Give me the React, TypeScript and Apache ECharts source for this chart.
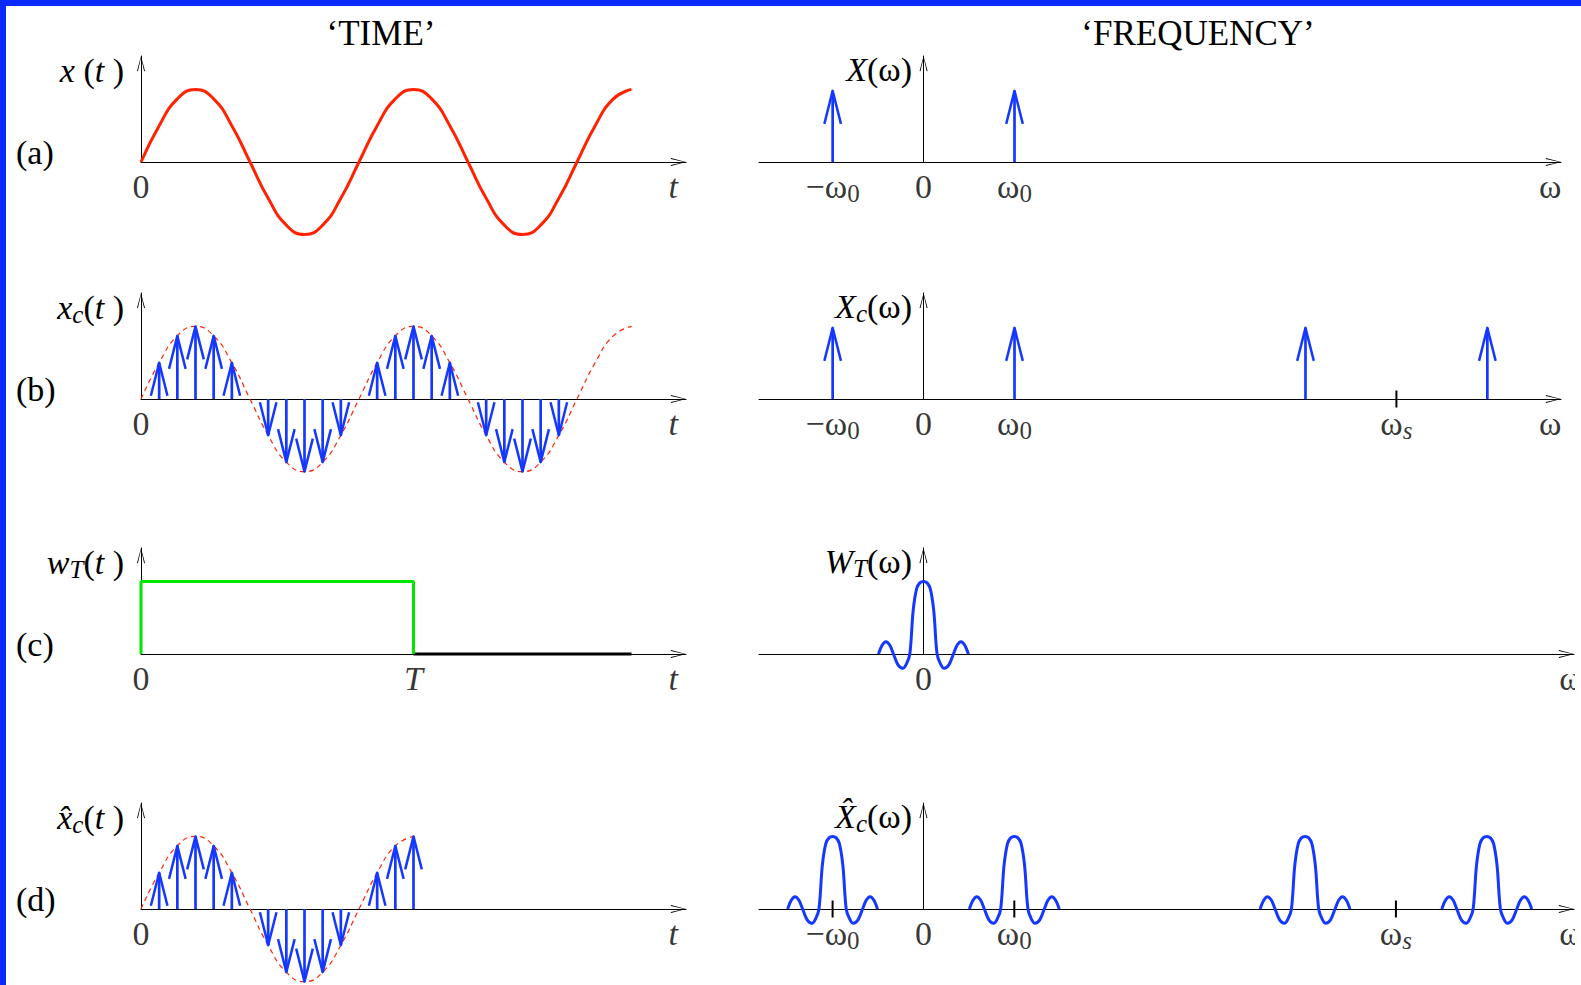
import React, { useEffect, useRef } from 'react';
import * as echarts from 'echarts';

const FONT = '"Liberation Serif", "Times New Roman", Times, serif';

// ---------------- data ----------------
// time axis: units of the sampling interval (12 samples per period of the sinusoid)
const timeIndex = [0, 1, 2, 3, 4, 5, 6, 7, 8, 9, 10, 11, 12, 13, 14, 15, 16, 17, 18, 19, 20, 21, 22, 23, 24, 25, 26, 27];
const sineValues = [0, 0.5, 0.87, 1, 0.87, 0.5, 0, -0.5, -0.87, -1, -0.87, -0.5, 0, 0.5, 0.87, 1, 0.87, 0.5, 0, -0.5, -0.87, -1, -0.87, -0.5, 0, 0.5, 0.87, 1];
const timeAxisMin = 0;
const timeAxisMax = 30;
const sampledUntilB = 24;
const windowLength = 15; // T
const windowLevel = 1;
const timeEnd = 27;

// frequency axis: units of ω0
const freqAxisMin = -1.81;
const freqAxisMaxAB = 7.01;
const freqAxisMaxCD = 7.16;
const impulsesA = [-1, 1];
const impulsesB = [-1, 1, 4.2, 6.2];
const impulseHeight = 0.98;
const sincOffsets = [-0.495, -0.455, -0.413, -0.37, -0.33, -0.28, -0.227, -0.185, -0.15, -0.113, -0.075, -0.04, 0, 0.04, 0.075, 0.113, 0.15, 0.185, 0.227, 0.28, 0.33, 0.37, 0.413, 0.455, 0.495];
const sincValues = [0, 0.12, 0.17, 0.12, 0, -0.15, -0.197, -0.13, 0, 0.6, 0.9, 0.98, 1, 0.98, 0.9, 0.6, 0, -0.13, -0.197, -0.15, 0, 0.12, 0.17, 0.12, 0];
const sincCenterC = [0];
const replicaCentersD = [-1, 1, 4.2, 6.2];
const ticksB = [5.2];
const ticksD = [-1, 1, 5.2];

// tick labels (position on axis, text)
const timeLabels = [{ at: 0, text: '{n|0}' }, { at: 29.3, text: '{i|t}' }];
const timeLabelsC = [{ at: 0, text: '{n|0}' }, { at: 15, text: '{i|T}' }, { at: 29.3, text: '{i|t}' }];
const freqLabelsA = [{ at: -1, text: '{n|−ω}{s|0}' }, { at: 0, text: '{n|0}' }, { at: 1, text: '{n|ω}{s|0}' }, { at: 6.89, text: '{n|ω}' }];
const freqLabelsB = [{ at: -1, text: '{n|−ω}{s|0}' }, { at: 0, text: '{n|0}' }, { at: 1, text: '{n|ω}{s|0}' }, { at: 5.2, text: '{n|ω}{si|s}' }, { at: 6.89, text: '{n|ω}' }];
const freqLabelsC = [{ at: 0, text: '{n|0}' }, { at: 7.12, text: '{n|ω}' }];
const freqLabelsD = [{ at: -1, text: '{n|−ω}{s|0}' }, { at: 0, text: '{n|0}' }, { at: 1, text: '{n|ω}{s|0}' }, { at: 5.2, text: '{n|ω}{si|s}' }, { at: 7.12, text: '{n|ω}' }];

const yNamesTime = ['{i|x} ({i|t} )', '{i|x}{si|c}({i|t} )', '{i|w}{si|T}({i|t} )', '{i|x\u0302}{si|c}({i|t} )'];
const yNamesFreq = ['{i|X}(ω)', '{i|X}{si|c}(ω)', '{i|W}{si|T}(ω)', '{i|X\u0302}{si|c}(ω)'];
const panelLetters = ['(a)', '(b)', '(c)', '(d)'];
const titles = ['‘TIME’', '‘FREQUENCY’'];

// ---------------- layout / style ----------------
const W = 1581;
const H = 985;
const BASELINES = [162, 399, 654, 909];
const AX_H = 106;
const UNIT_PX = 72.6;
const Y_MAX = AX_H / UNIT_PX;
const TIME_LEFT = 141;
const TIME_RIGHT = 686;
const FREQ_LEFT = 759;
const FREQ_RIGHT_AB = 1561;
const FREQ_RIGHT_CD = 1574;
const BLUE = '#1438ff';
const RED = '#ff2200';
const GREEN = '#00e600';
const BORDER = '#0a2aff';
const ARROW = 'path://M4,0L8,15L7.1,15.2L4,1.8L0.9,15.2L0,15Z';
const SUB_PAD = [14, 0, 0, 0];

const labelRich = {
  n: { fontFamily: FONT, fontSize: 34, lineHeight: 36, color: '#000' },
  i: { fontFamily: FONT, fontSize: 34, lineHeight: 36, fontStyle: 'italic', color: '#000' },
  s: { fontFamily: FONT, fontSize: 25, padding: SUB_PAD, verticalAlign: 'middle', color: '#000' },
  si: { fontFamily: FONT, fontSize: 25, padding: SUB_PAD, verticalAlign: 'middle', fontStyle: 'italic', color: '#000' },
};
const gRich = {
  n: { font: `34px ${FONT}`, fill: '#000', lineHeight: 36 },
  i: { font: `italic 34px ${FONT}`, fill: '#000', lineHeight: 36 },
  s: { font: `25px ${FONT}`, fill: '#000', padding: SUB_PAD, verticalAlign: 'middle' },
  si: { font: `italic 25px ${FONT}`, fill: '#000', padding: SUB_PAD, verticalAlign: 'middle' },
};

function axis(gridIndex: number, min: number, max: number) {
  return {
    type: 'value',
    gridIndex,
    min,
    max,
    axisLine: {
      show: true,
      onZero: true,
      symbol: ['none', ARROW],
      symbolSize: [8, 15.2],
      symbolOffset: [0, -7.6],
      lineStyle: { color: '#000', width: 1 },
    },
    axisTick: { show: false },
    axisLabel: { show: false },
    splitLine: { show: false },
  };
}

function lineSeries(g: number, data: number[][], color: string, width: number, extra: any = {}) {
  return {
    type: 'line',
    xAxisIndex: g,
    yAxisIndex: g,
    data,
    symbol: 'none',
    showSymbol: false,
    clip: false,
    silent: true,
    lineStyle: { color, width, ...(extra.lineStyle || {}) },
    smooth: extra.smooth || false,
    z: extra.z || 3,
  };
}

function renderArrow(params: any, api: any) {
  const x = api.value(0);
  const v = api.value(1);
  const b = api.coord([x, 0]);
  const t = api.coord([x, v]);
  const d = v >= 0 ? 1 : -1;
  return {
    type: 'group',
    children: [
      { type: 'line', shape: { x1: b[0], y1: b[1], x2: t[0], y2: t[1] }, style: { stroke: BLUE, lineWidth: 2.7 } },
      {
        type: 'polyline',
        shape: { points: [[t[0] - 8.3, t[1] + d * 33], [t[0], t[1]], [t[0] + 8.3, t[1] + d * 33]] },
        style: { stroke: BLUE, lineWidth: 2.5, fill: 'none', lineJoin: 'round' },
      },
    ],
  };
}

function renderTick(params: any, api: any) {
  const p = api.coord([api.value(0), 0]);
  return { type: 'line', shape: { x1: p[0], y1: p[1] - 8.5, x2: p[0], y2: p[1] + 8.5 }, style: { stroke: '#000', lineWidth: 2 } };
}

function arrowSeries(g: number, data: number[][]) {
  return { type: 'custom', xAxisIndex: g, yAxisIndex: g, data, renderItem: renderArrow, clip: false, silent: true, z: 4 };
}
function tickSeries(g: number, xs: number[]) {
  return { type: 'custom', xAxisIndex: g, yAxisIndex: g, data: xs.map((x) => [x]), renderItem: renderTick, clip: false, silent: true, z: 4 };
}
function labelSeries(g: number, labels: { at: number; text: string }[]) {
  return {
    type: 'scatter',
    xAxisIndex: g,
    yAxisIndex: g,
    symbol: 'circle',
    symbolSize: 1,
    itemStyle: { color: 'rgba(0,0,0,0)' },
    clip: false,
    silent: true,
    data: labels.map((l) => ({ value: [l.at, 0], label: { formatter: l.text } })),
    label: {
      show: true,
      position: 'inside',
      offset: [0, 24],
      color: '#000',
      fontFamily: FONT,
      fontSize: 34,
      lineHeight: 36,
      rich: labelRich,
    },
    z: 5,
  };
}

function buildOption() {
  const grids: any[] = [];
  const xAxes: any[] = [];
  const yAxes: any[] = [];
  for (let r = 0; r < 4; r++) {
    grids.push({ left: TIME_LEFT, top: BASELINES[r] - AX_H, width: TIME_RIGHT - TIME_LEFT, height: AX_H, containLabel: false, outerBoundsMode: 'none' });
    xAxes.push(axis(r, timeAxisMin, timeAxisMax));
    yAxes.push(axis(r, 0, Y_MAX));
  }
  for (let r = 0; r < 4; r++) {
    const right = r < 2 ? FREQ_RIGHT_AB : FREQ_RIGHT_CD;
    grids.push({ left: FREQ_LEFT, top: BASELINES[r] - AX_H, width: right - FREQ_LEFT, height: AX_H, containLabel: false, outerBoundsMode: 'none' });
    xAxes.push(axis(4 + r, freqAxisMin, r < 2 ? freqAxisMaxAB : freqAxisMaxCD));
    yAxes.push(axis(4 + r, 0, Y_MAX));
  }

  const sinePts = timeIndex.map((k, i) => [k, sineValues[i]]);
  const stemsB = sinePts.filter(([k, v]) => k < sampledUntilB && v !== 0);
  const stemsD = sinePts.filter(([k, v]) => k <= windowLength && v !== 0);
  const dashedD = sinePts.filter(([k]) => k <= windowLength);
  const sincAt = (c: number) => sincOffsets.map((o, i) => [c + o, sincValues[i]]);

  const series: any[] = [
    // time (a)
    lineSeries(0, sinePts, RED, 3, { smooth: 0.5 }),
    labelSeries(0, timeLabels),
    // time (b)
    lineSeries(1, sinePts, RED, 1.2, { smooth: 0.5, lineStyle: { type: [5, 4] } }),
    arrowSeries(1, stemsB),
    labelSeries(1, timeLabels),
    // time (c)
    lineSeries(2, [[windowLength, 0], [timeEnd, 0]], '#000', 3),
    lineSeries(2, [[0, 0], [0, windowLevel], [windowLength, windowLevel], [windowLength, 0]], GREEN, 3, { z: 4 }),
    labelSeries(2, timeLabelsC),
    // time (d)
    lineSeries(3, dashedD, RED, 1.2, { smooth: 0.5, lineStyle: { type: [5, 4] } }),
    arrowSeries(3, stemsD),
    labelSeries(3, timeLabels),
    // freq (a)
    arrowSeries(4, impulsesA.map((x) => [x, impulseHeight])),
    labelSeries(4, freqLabelsA),
    // freq (b)
    arrowSeries(5, impulsesB.map((x) => [x, impulseHeight])),
    tickSeries(5, ticksB),
    labelSeries(5, freqLabelsB),
    // freq (c)
    ...sincCenterC.map((c) => lineSeries(6, sincAt(c), BLUE, 3, { smooth: 0.35 })),
    labelSeries(6, freqLabelsC),
    // freq (d)
    ...replicaCentersD.map((c) => lineSeries(7, sincAt(c), BLUE, 3, { smooth: 0.35 })),
    tickSeries(7, ticksD),
    labelSeries(7, freqLabelsD),
  ];

  const graphic: any[] = [];
  graphic.push({ type: 'text', x: 381, y: 33, style: { text: titles[0], font: `35px ${FONT}`, fill: '#000', textAlign: 'center', textVerticalAlign: 'middle' } });
  graphic.push({ type: 'text', x: 1198, y: 33, style: { text: titles[1], font: `35px ${FONT}`, fill: '#000', textAlign: 'center', textVerticalAlign: 'middle' } });
  for (let r = 0; r < 4; r++) {
    graphic.push({ type: 'text', x: 16, y: BASELINES[r] - 10, style: { text: panelLetters[r], font: `34px ${FONT}`, fill: '#000', textAlign: 'left', textVerticalAlign: 'middle' } });
    graphic.push({ type: 'text', x: 124, y: BASELINES[r] - 92, style: { text: yNamesTime[r], rich: gRich, font: `34px ${FONT}`, fill: '#000', lineHeight: 36, textAlign: 'right', textVerticalAlign: 'middle' } });
    graphic.push({ type: 'text', x: 912, y: BASELINES[r] - 93, style: { text: yNamesFreq[r], rich: gRich, font: `34px ${FONT}`, fill: '#000', lineHeight: 36, textAlign: 'right', textVerticalAlign: 'middle' } });
  }
  // cropped right edge and blue frame
  graphic.push({ type: 'rect', shape: { x: 1575, y: 6, width: 10, height: H }, style: { fill: '#fff' }, z: 99 });
  graphic.push({ type: 'rect', shape: { x: 0, y: 0, width: W, height: 6 }, style: { fill: BORDER }, z: 100 });
  graphic.push({ type: 'rect', shape: { x: 0, y: 0, width: 6, height: H }, style: { fill: BORDER }, z: 100 });

  return {
    animation: false,
    backgroundColor: '#ffffff',
    grid: grids,
    xAxis: xAxes,
    yAxis: yAxes,
    series,
    graphic,
  };
}

export default function App() {
  const ref = useRef<HTMLDivElement>(null);
  useEffect(() => {
    document.body.style.margin = '0';
    const chart = echarts.init(ref.current as HTMLDivElement, undefined, { renderer: 'svg', width: W, height: H });
    chart.setOption(buildOption() as any);
    return () => chart.dispose();
  }, []);
  return <div ref={ref} style={{ position: 'fixed', left: 0, top: 0, width: W, height: H, background: '#fff' }} />;
}
